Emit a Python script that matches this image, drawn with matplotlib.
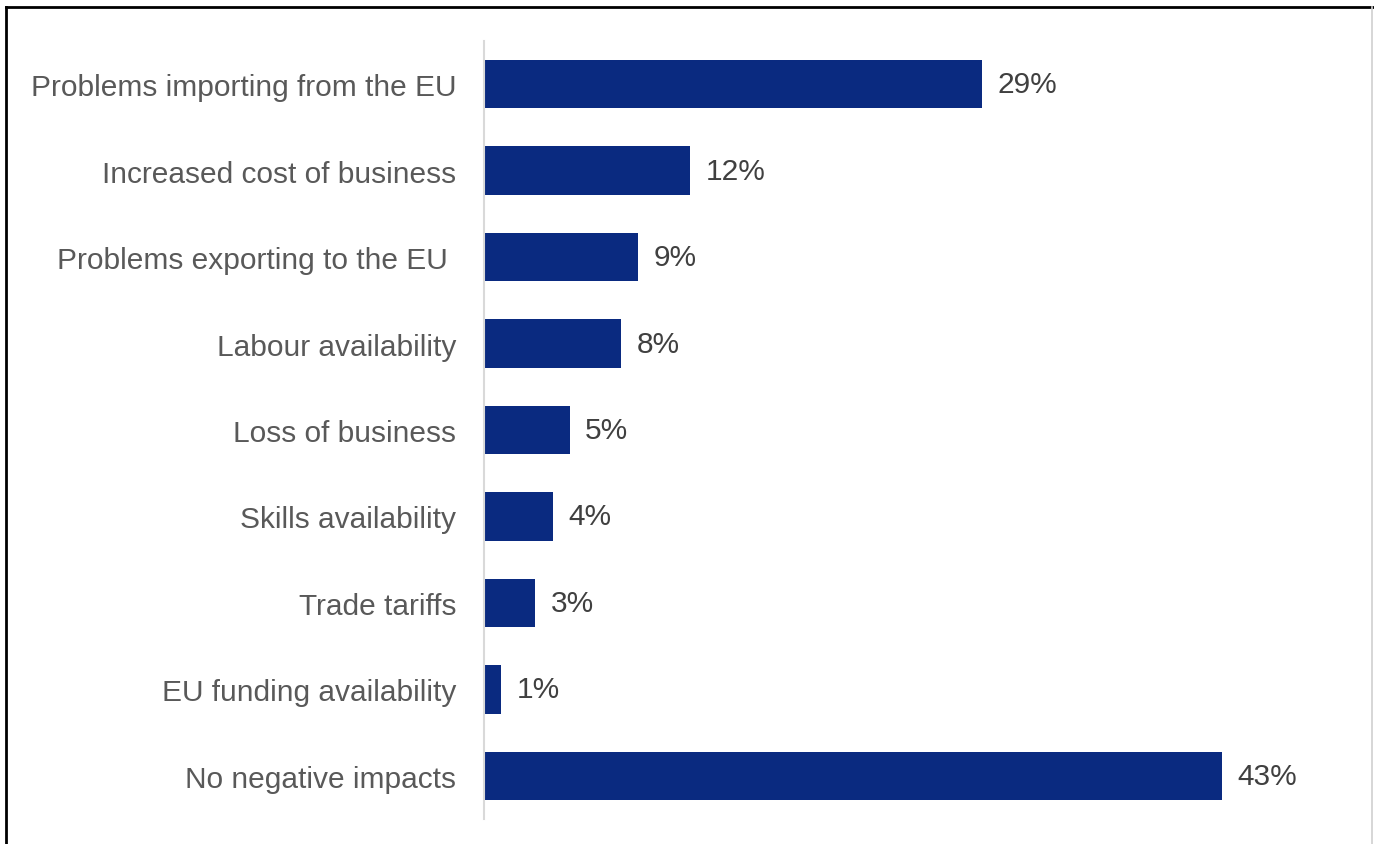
import matplotlib.pyplot as plt
from matplotlib.lines import Line2D

categories = [
    "Problems importing from the EU",
    "Increased cost of business",
    "Problems exporting to the EU ",
    "Labour availability",
    "Loss of business",
    "Skills availability",
    "Trade tariffs",
    "EU funding availability",
    "No negative impacts",
]
values = [29, 12, 9, 8, 5, 4, 3, 1, 43]

plt.rcParams['font.family'] = ['Liberation Sans', 'DejaVu Sans']

W, H = 1374, 845
fig = plt.figure(figsize=(W / 100, H / 100), dpi=100)
ax = fig.add_axes([484 / W, 25 / H, 858 / W, 778 / H])

pos = list(range(len(categories)))
ax.barh(pos, values, height=0.56, color='#0a2a80')
ax.set_ylim(len(categories) - 0.5, -0.5)
ax.set_xlim(0, 50)

ax.set_yticks(pos)
ax.set_yticklabels(categories, fontsize=21.5, color='#595959')
ax.tick_params(axis='y', length=0, pad=20)
ax.set_xticks([])

for s in ['top', 'right', 'bottom']:
    ax.spines[s].set_visible(False)
ax.spines['left'].set_color('#d9d9d9')
ax.spines['left'].set_linewidth(1.5)

for p, v in zip(pos, values):
    ax.text(v + 0.9, p, f"{v}%", va='center', ha='left', fontsize=21.5, color='#404040')

# outer frame
fig.add_artist(Line2D([6 / W, 6 / W], [0, 1 - 8 / H], color='black', lw=2, transform=fig.transFigure))
fig.add_artist(Line2D([6 / W, 1], [1 - 8 / H, 1 - 8 / H], color='black', lw=2, transform=fig.transFigure))
fig.add_artist(Line2D([1372 / W, 1372 / W], [0, 1 - 8 / H], color='#d0d0d0', lw=1.2, transform=fig.transFigure))

fig.savefig('out.png', dpi=100)
